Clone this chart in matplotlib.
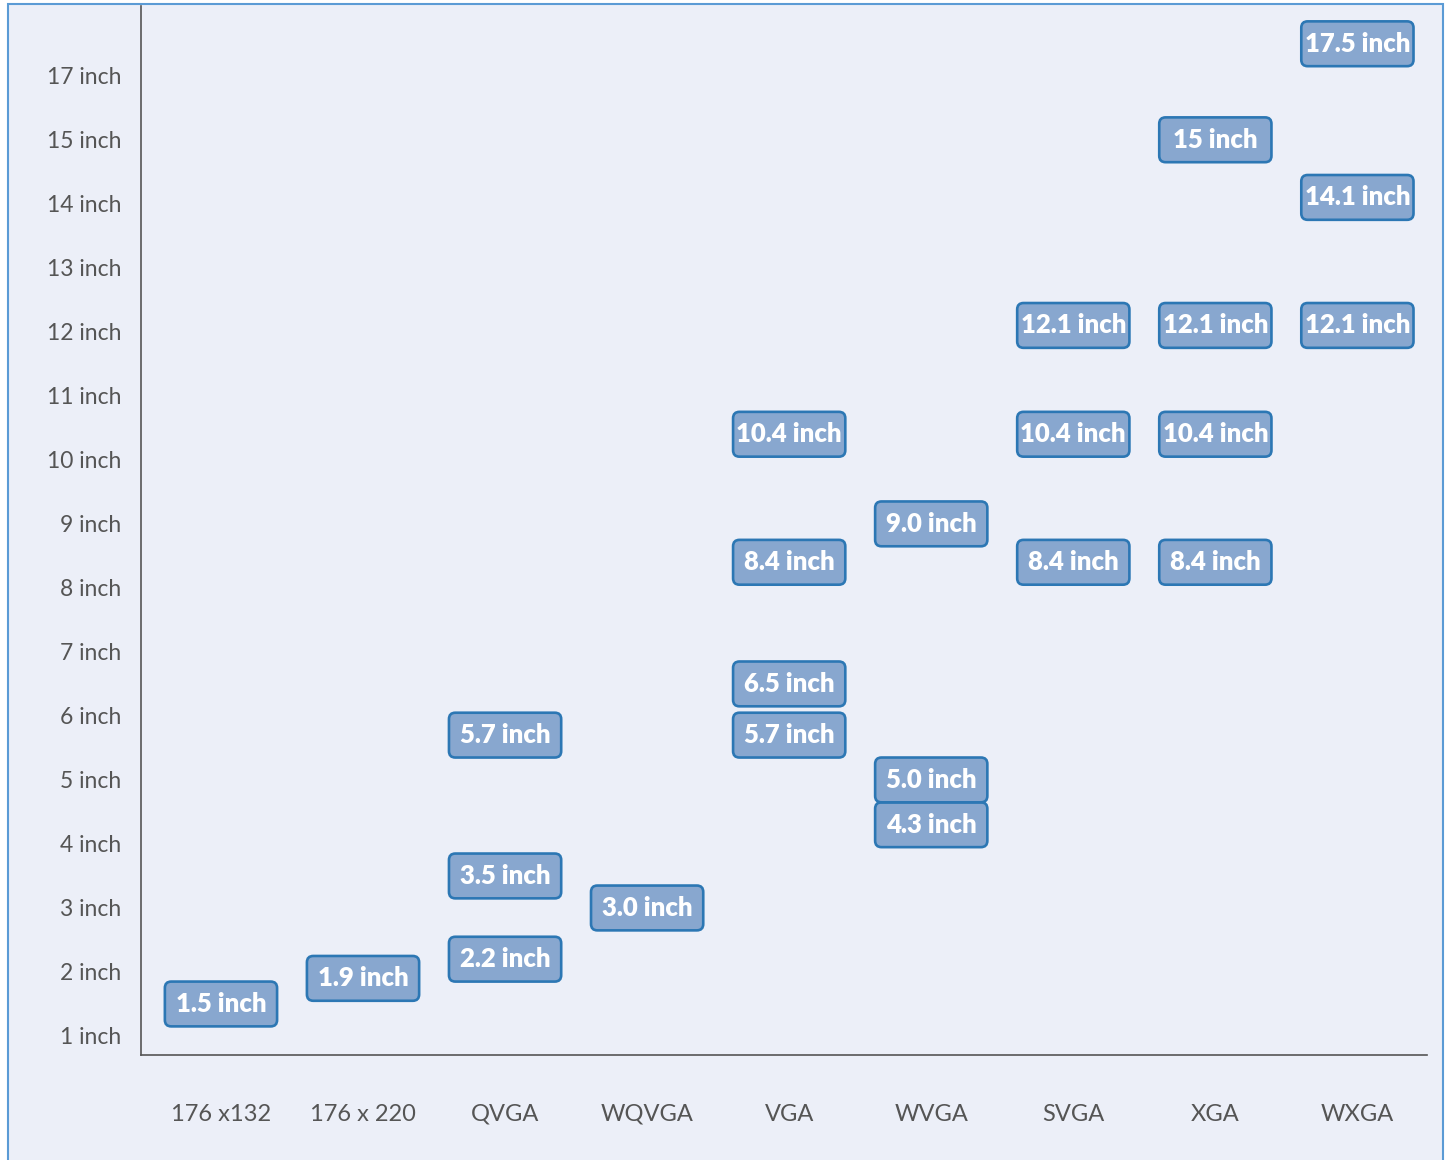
import matplotlib.pyplot as plt
from matplotlib.patches import FancyBboxPatch, Rectangle

plt.rcParams['font.family'] = ['Lato', 'DejaVu Sans']

# display resolutions (x axis) and the panel sizes available for each
resolutions = ["176 x132", "176 x 220", "QVGA", "WQVGA", "VGA", "WVGA", "SVGA", "XGA", "WXGA"]
sizes_176x132 = ["1.5"]
sizes_176x220 = ["1.9"]
sizes_qvga = ["2.2", "3.5", "5.7"]
sizes_wqvga = ["3.0"]
sizes_vga = ["5.7", "6.5", "8.4", "10.4"]
sizes_wvga = ["4.3", "5.0", "9.0"]
sizes_svga = ["8.4", "10.4", "12.1"]
sizes_xga = ["8.4", "10.4", "12.1", "15"]
sizes_wxga = ["12.1", "14.1", "17.5"]
all_sizes = [sizes_176x132, sizes_176x220, sizes_qvga, sizes_wqvga, sizes_vga,
             sizes_wvga, sizes_svga, sizes_xga, sizes_wxga]

# y axis rows: 1..15 inch, then 17 inch (no 16 inch row)
row_inches = [1, 2, 3, 4, 5, 6, 7, 8, 9, 10, 11, 12, 13, 14, 15, 17]


def row_pos(v):
    # skip the missing 16 inch row
    return v if v <= 15 else v - 1


BG = '#ECEFF8'
FACE = '#88A7CF'
EDGE = '#2C77B4'
GREY = '#555555'

fig = plt.figure(figsize=(14.47, 11.6), dpi=100)
fig.patch.set_facecolor('white')
frame = Rectangle((8 / 1447, -0.01), 1435 / 1447, 1.01 - 4 / 1160,
                  transform=fig.transFigure, facecolor=BG,
                  edgecolor='#5B9BD5', linewidth=1.5, zorder=-10)
fig.patches.append(frame)

ax = fig.add_axes([141 / 1447, 1 - 1055 / 1160, 1286 / 1447, 1049 / 1160])
ax.set_facecolor('none')
ax.set_xlim(-0.563, 8.49)
ax.set_ylim(0.703, 17.09)

# fixed box size (data units) with corners kept round despite unequal scales
box_w, box_h = 0.79, 0.70
aspect = 142 / 64

for i, col in enumerate(all_sizes):
    for s in col:
        y = row_pos(float(s))
        box = FancyBboxPatch((i - box_w / 2, y - box_h / 2), box_w, box_h,
                             boxstyle='round,pad=0,rounding_size=0.045',
                             mutation_aspect=aspect, facecolor=FACE,
                             edgecolor=EDGE, linewidth=1.9, zorder=3)
        ax.add_patch(box)
        ax.text(i, y, s + " inch", ha='center', va='center', color='white',
                fontsize=18.5, fontweight='heavy', zorder=4)

ax.set_xticks(range(len(resolutions)))
ax.set_xticklabels(resolutions)
ax.set_yticks([row_pos(v) for v in row_inches])
ax.set_yticklabels([f"{v} inch" for v in row_inches])
ax.tick_params(axis='x', length=0, pad=35, labelsize=17, labelcolor=GREY)
ax.tick_params(axis='y', length=0, pad=14, labelsize=16.5, labelcolor=GREY)

for side in ['top', 'right']:
    ax.spines[side].set_visible(False)
for side in ['left', 'bottom']:
    ax.spines[side].set_color(GREY)
    ax.spines[side].set_linewidth(1.2)

plt.savefig('out.png', dpi=100)
